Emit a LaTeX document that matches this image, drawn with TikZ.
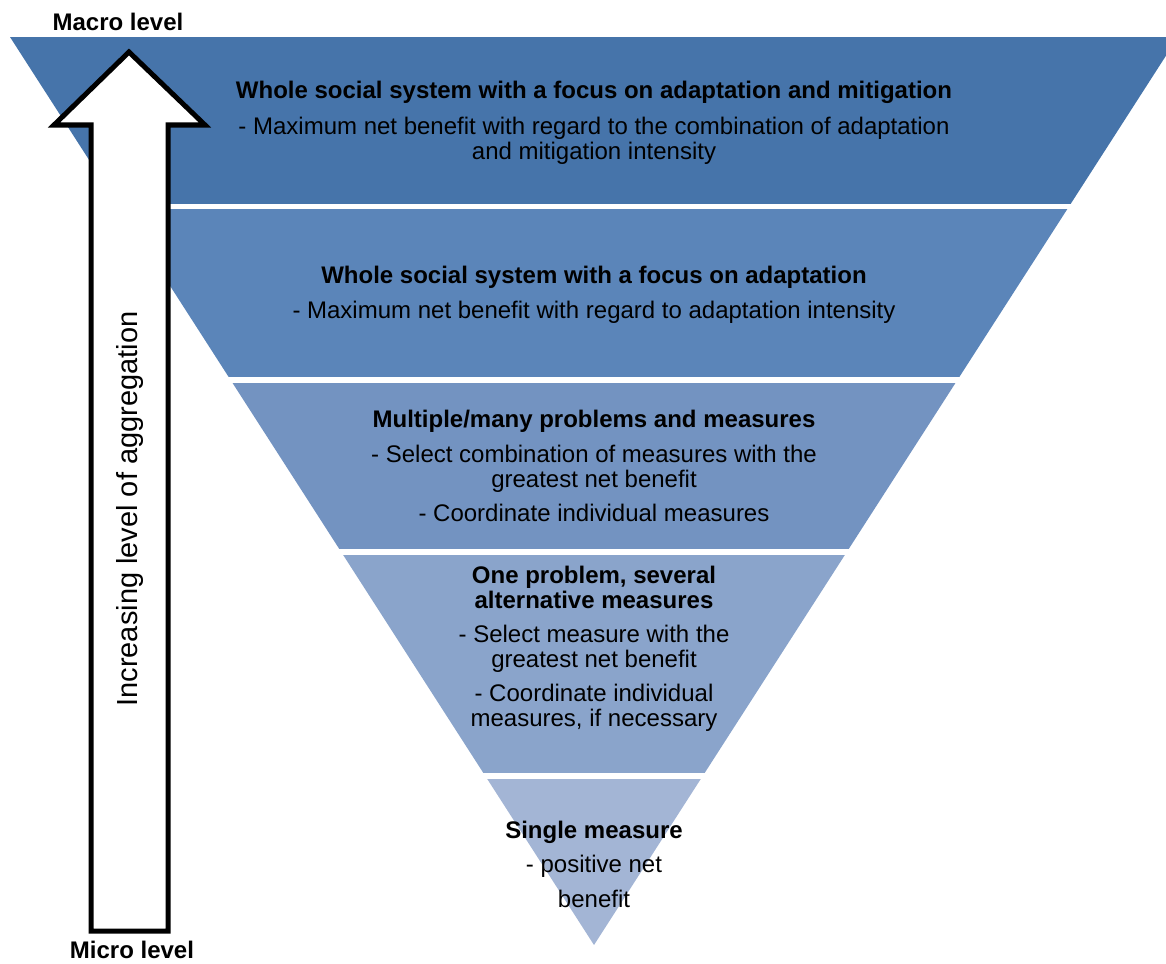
\documentclass[tikz,border=0pt]{standalone}
\usepackage{fontspec}
\setmainfont{Liberation Sans}
\usepackage{tikz}
\definecolor{bandA}{RGB}{70,116,170}
\definecolor{bandB}{RGB}{91,133,185}
\definecolor{bandC}{RGB}{115,147,193}
\definecolor{bandD}{RGB}{138,164,203}
\definecolor{bandE}{RGB}{163,181,213}
\tikzstyle{bandText} = [align=center, text=black, font=\fontsize{12}{12.25}\selectfont]
\tikzstyle{levelText} = [text=black, inner sep=1pt, font=\fontsize{12}{12.25}\selectfont\bfseries]
\tikzstyle{bigArrow} = [draw=black, fill=white, line width=2.5pt, line join=miter]

\begin{document}
\begin{tikzpicture}[x=0.5pt, y=-0.5pt]
    \useasboundingbox (0,0) rectangle (1166,963);
    \coordinate (topL) at (10,37);
    \coordinate (topR) at (1178,37);
    \coordinate (apex) at (594,945);

    % the five layers of the pyramid
    \begin{scope}
    \clip (topL) -- (topR) -- (apex) -- cycle;
    \fill [bandA] (0,37) rectangle (1200,204);
    \fill [bandB] (0,209) rectangle (1200,377);
    \fill [bandC] (0,383) rectangle (1200,549);
    \fill [bandD] (0,555) rectangle (1200,773);
    \fill [bandE] (0,779) rectangle (1200,945);
    \end{scope}

    \draw [bigArrow] (129,52) -- (205,125) -- (168,125) -- (168,931) -- (91,931) -- (91,125) -- (54,125) -- cycle;
    \node (aggr) [rotate=90, text=black, font=\fontsize{14.5}{15}\selectfont] at (130,509) {Increasing level of aggregation};
    \node (macro) [levelText] at (118,22) {Macro level};
    \node (micro) [levelText] at (132,950) {Micro level};

    \node (mitig) [bandText] at (594,122.5) {\textbf{Whole social system with a focus on adaptation and mitigation}\\[6pt]
        - Maximum net benefit with regard to the combination of adaptation\\ and mitigation intensity};
    \node (adapt) [bandText] at (594,295) {\textbf{Whole social system with a focus on adaptation}\\[5pt]
        - Maximum net benefit with regard to adaptation intensity};
    \node (multi) [bandText] at (594,466) {\textbf{Multiple/many problems and measures}\\[5.5pt]
        - Select combination of measures with the\\ greatest net benefit\\[5pt]
        - Coordinate individual measures};
    \node (oneprob) [bandText] at (594,649) {\textbf{One problem, several}\\ \textbf{alternative measures}\\[5pt]
        - Select measure with the\\ greatest net benefit\\[5pt]
        - Coordinate individual\\ measures, if necessary};
    \node (single) [bandText] at (594,864) {\textbf{Single measure}\\[5pt]
        - positive net\\[5pt] benefit};
\end{tikzpicture}
\end{document}
